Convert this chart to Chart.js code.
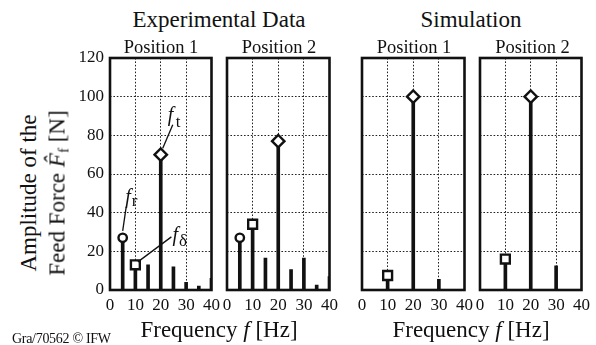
<!DOCTYPE html>
<html><head><meta charset="utf-8">
<script src="https://cdn.jsdelivr.net/npm/chart.js@4.4.1/dist/chart.umd.min.js"></script>
<style>
html,body{margin:0;padding:0;background:#fff;}
#wrap{position:relative;width:596px;height:345px;overflow:hidden;font-family:"Liberation Serif","Times New Roman",serif;color:#111;}
canvas{position:absolute;}
.t{position:absolute;white-space:nowrap;line-height:1;transform:translateX(-50%);}
.r{position:absolute;white-space:nowrap;line-height:1;transform:translate(-50%,-50%) rotate(-90deg);}
</style></head><body><div id="wrap">
<canvas id="c1"></canvas><canvas id="c2"></canvas><canvas id="c3"></canvas><canvas id="c4"></canvas>
<div class="t" style="left:219px;top:7.7px;font-size:23px">Experimental Data</div>
<div class="t" style="left:471px;top:7.7px;font-size:23px">Simulation</div>
<div class="t" style="left:161px;top:37.5px;font-size:18.5px">Position 1</div>
<div class="t" style="left:279px;top:37.5px;font-size:18.5px">Position 2</div>
<div class="t" style="left:414px;top:37.5px;font-size:18.5px">Position 1</div>
<div class="t" style="left:532.5px;top:37.5px;font-size:18.5px">Position 2</div>
<div class="t" style="left:219px;top:317.7px;font-size:23px">Frequency <i>f</i> [Hz]</div>
<div class="t" style="left:471px;top:317.7px;font-size:23px">Frequency <i>f</i> [Hz]</div>
<div class="r" style="left:28px;top:193px;font-size:23px">Amplitude of the</div>
<div class="r" style="left:57px;top:193px;font-size:23px">Feed Force <i>F&#770;</i><span style="font-size:15px;position:relative;top:4px">f</span> [N]</div>
<div style="position:absolute;left:12px;top:331.5px;font-size:14px;line-height:1;white-space:nowrap;letter-spacing:-0.3px">Gra/70562 © IFW</div>
</div>
<script>
// ---- data ----
const yTicks = [0, 20, 40, 60, 80, 100, 120];
const xTicks = [0, 10, 20, 30, 40];
const expPos1Freq = [5, 10, 15, 20, 25, 30, 35, 40];
const expPos1Amp  = [27, 13, 13, 70, 12, 4, 2, 6];
const expPos2Freq = [5, 10, 15, 20, 25, 30, 35, 40];
const expPos2Amp  = [27, 34, 16.5, 77, 10.5, 16.5, 2.5, 7];
const simPos1Freq = [10, 20, 30];
const simPos1Amp  = [7.5, 100, 5.5];
const simPos2Freq = [10, 20, 30];
const simPos2Amp  = [16, 100, 12.5];
const markerFreqs  = [5, 10, 20];               // f_r, f_delta, f_t
const markerStyles = ['circle', 'rect', 'rectRot'];

const FONT = "'Liberation Serif', 'Times New Roman', serif";
const TOP = 40, PAD_TOP = 18, PLOT_H = 232, BOTTOM = 30;

const frame = {
  id: 'frame',
  afterDatasetsDraw(chart) {
    const {ctx, chartArea: a} = chart;
    ctx.save();
    ctx.strokeStyle = '#111';
    ctx.lineWidth = 2.6;
    ctx.strokeRect(a.left, a.top, a.right - a.left, a.bottom - a.top);
    ctx.restore();
  }
};

function notesPlugin(freqs, amps) {
  return {
    id: 'notes',
    afterDatasetsDraw(chart) {
      const {ctx, scales: {x, y}} = chart;
      const notes = [
        {f: markerFreqs[0], sub: 'r', end: [0, -7], start: [3.5, -31], txt: [2.5, -35], subOff: [9, -32]},
        {f: markerFreqs[1], sub: 'δ', end: [2.5, -3], start: [36, -28], txt: [37, -24], subOff: [43.5, -19]},
        {f: markerFreqs[2], sub: 't', end: [2, -6.5], start: [12, -30], txt: [7, -34], subOff: [15, -28]}
      ];
      ctx.save();
      ctx.strokeStyle = '#111';
      ctx.fillStyle = '#111';
      ctx.lineWidth = 1.3;
      notes.forEach(n => {
        const i = freqs.indexOf(n.f);
        const px = x.getPixelForValue(n.f), py = y.getPixelForValue(amps[i]);
        ctx.beginPath();
        ctx.moveTo(px + n.start[0], py + n.start[1]);
        ctx.lineTo(px + n.end[0], py + n.end[1]);
        ctx.stroke();
        ctx.font = 'italic 20px ' + FONT;
        ctx.textBaseline = 'alphabetic';
        ctx.fillText('f', px + n.txt[0], py + n.txt[1]);
        ctx.font = '17px ' + FONT;
        ctx.fillText(n.sub, px + n.subOff[0], py + n.subOff[1]);
      });
      ctx.restore();
    }
  };
}

function makePanel(id, left, padL, padR, plotW, freqs, amps, showY, notes) {
  const cv = document.getElementById(id);
  cv.width = padL + plotW + padR;
  cv.height = PAD_TOP + PLOT_H + BOTTOM;
  cv.style.left = left + 'px';
  cv.style.top = TOP + 'px';
  const markerData = [];
  markerFreqs.forEach((f, k) => {
    const i = freqs.indexOf(f);
    if (i >= 0) markerData.push({x: f, y: amps[i], s: markerStyles[k]});
  });
  const plugins = [frame];
  if (notes) plugins.push(notesPlugin(freqs, amps));
  new Chart(cv, {
    type: 'bar',
    data: {
      datasets: [
        {
          type: 'scatter',
          order: 1,
          data: markerData.map(m => ({x: m.x, y: m.y})),
          pointStyle: markerData.map(m => m.s),
          pointRadius: markerData.map(m => m.s === 'circle' ? 4.2 : (m.s === 'rect' ? 6.3 : 6.2)),
          pointBorderWidth: 2.4,
          pointBackgroundColor: '#fff',
          pointBorderColor: '#111',
          showLine: false
        },
        {
          type: 'bar',
          order: 2,
          data: freqs.map((f, i) => ({x: f, y: amps[i]})),
          backgroundColor: '#111',
          barThickness: 3,
          grouped: false,
          borderWidth: 0
        }
      ]
    },
    options: {
      responsive: false,
      animation: false,
      events: [],
      layout: {autoPadding: false, padding: {left: 0, right: padR, top: PAD_TOP, bottom: 0}},
      plugins: {legend: {display: false}, tooltip: {enabled: false}},
      scales: {
        x: {
          type: 'linear', min: 0, max: 40, offset: false,
          afterBuildTicks: s => { s.ticks = xTicks.map(v => ({value: v})); },
          afterFit: s => { s.height = BOTTOM; },
          grid: {color: '#222', lineWidth: 1, drawTicks: false, offset: false},
          border: {display: false, dash: [1.6, 1.8]},
          ticks: {autoSkip: false, maxRotation: 0, padding: 5, color: '#111', font: {family: FONT, size: 17}}
        },
        y: {
          type: 'linear', min: 0, max: 120,
          afterBuildTicks: s => { s.ticks = yTicks.map(v => ({value: v})); },
          afterFit: s => { s.width = padL; },
          grid: {color: '#222', lineWidth: 1, drawTicks: false},
          border: {display: false, dash: [1.6, 1.8]},
          ticks: {display: showY, padding: 6, color: '#111', font: {family: FONT, size: 17}}
        }
      }
    },
    plugins
  });
}

makePanel('c1', 60, 50, 12, 103, expPos1Freq, expPos1Amp, true, true);
makePanel('c2', 217, 10, 12, 104, expPos2Freq, expPos2Amp, false, false);
makePanel('c3', 352, 10, 12, 104, simPos1Freq, simPos1Amp, false, false);
makePanel('c4', 470, 10, 10, 105, simPos2Freq, simPos2Amp, false, false);
</script>
</body></html>
